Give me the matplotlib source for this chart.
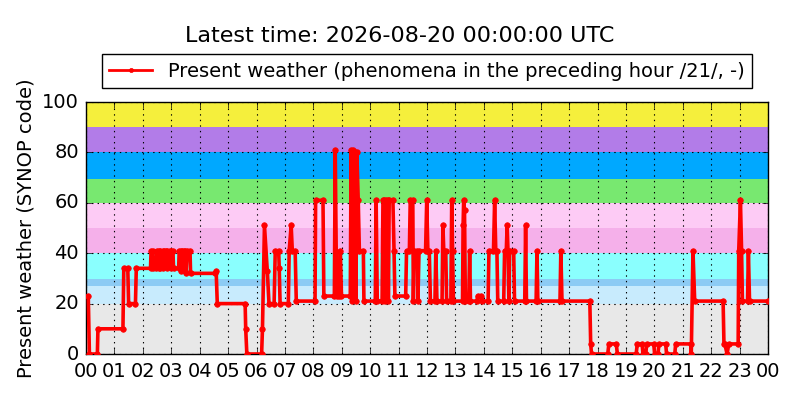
import matplotlib
matplotlib.use("Agg")
import matplotlib.pyplot as plt

plt.style.use("classic")
matplotlib.rcParams.update({"font.size": 14, "font.family": "DejaVu Sans"})

# observation times (hours since 00 UTC) and present weather codes
times = [0.08, 0.12, 0.40, 0.42, 1.30, 1.33, 1.47, 1.50, 1.74, 1.77, 2.27,
         2.29, 2.35, 2.37, 2.47, 2.49, 2.56, 2.58, 2.60, 2.62, 2.70, 2.72,
         2.74, 2.82, 2.84, 2.86, 2.96, 2.98, 3.00, 3.06, 3.08, 3.26, 3.28,
         3.33, 3.35, 3.38, 3.45, 3.47, 3.50, 3.52, 3.56, 3.66, 3.68, 4.55,
         4.58, 4.62, 5.60, 5.62, 5.66, 6.18, 6.21, 6.28, 6.38, 6.44, 6.62,
         6.66, 6.78, 6.80, 6.83, 7.12, 7.15, 7.22, 7.26, 7.36, 7.40, 8.06,
         8.08, 8.34, 8.37, 8.74, 8.77, 8.82, 8.92, 8.95, 8.99, 9.30, 9.33,
         9.37, 9.40, 9.42, 9.48, 9.50, 9.53, 9.58, 9.62, 9.76, 9.78, 10.18,
         10.21, 10.25, 10.42, 10.45, 10.50, 10.52, 10.55, 10.62, 10.64, 10.67,
         10.80, 10.84, 10.87, 11.25, 11.28, 11.38, 11.41, 11.50, 11.52, 11.55,
         11.66, 11.68, 11.72, 11.95, 11.99, 12.03, 12.08, 12.12, 12.28, 12.31,
         12.35, 12.53, 12.56, 12.59, 12.66, 12.69, 12.84, 12.87, 12.90, 12.93,
         13.25, 13.27, 13.29, 13.32, 13.35, 13.47, 13.50, 13.53, 13.76, 13.78,
         13.90, 13.94, 14.15, 14.18, 14.34, 14.38, 14.42, 14.46, 14.49, 14.70,
         14.73, 14.79, 14.82, 14.85, 14.88, 14.91, 15.05, 15.08, 15.44, 15.47,
         15.50, 15.84, 15.87, 15.90, 16.68, 16.71, 16.75, 17.73, 17.76, 17.79,
         18.36, 18.40, 18.66, 18.70, 19.36, 19.40, 19.57, 19.60, 19.70, 19.73,
         19.98, 20.01, 20.13, 20.16, 20.40, 20.43, 20.72, 20.75, 21.28, 21.30,
         21.36, 21.42, 22.42, 22.45, 22.48, 22.56, 22.62, 22.95, 22.97, 23.03,
         23.07, 23.10, 23.28, 23.31, 23.35, 23.99]
codes = [23, 0, 0, 10, 10, 34, 34, 20, 20, 34, 34,
         41, 41, 34, 34, 41, 41, 34, 34, 41, 41, 34,
         41, 41, 34, 41, 41, 34, 41, 41, 34, 34, 41,
         41, 33, 41, 41, 33, 41, 32, 41, 41, 32, 32,
         33, 20, 20, 10, 0, 0, 10, 51, 33, 20, 20,
         41, 41, 34, 20, 20, 41, 51, 41, 41, 21, 21,
         61, 61, 23, 23, 81, 23, 23, 41, 23, 23, 81,
         21, 81, 80, 80, 21, 80, 61, 41, 41, 21, 21,
         61, 21, 21, 61, 61, 21, 61, 61, 21, 61,
         61, 41, 23, 23, 41, 41, 61, 61, 21, 41,
         41, 21, 41, 41, 61, 41, 41, 21, 21, 41,
         21, 21, 51, 41, 41, 21, 21, 61, 41, 21,
         21, 51, 61, 57, 21, 21, 41, 21, 21, 23,
         23, 21, 21, 41, 41, 61, 41, 41, 21, 21,
         41, 41, 51, 41, 21, 41, 41, 21, 21, 51,
         21, 21, 41, 21, 21, 41, 21, 21, 4, 0,
         0, 4, 4, 0, 0, 4, 4, 0, 0, 4,
         4, 0, 0, 4, 4, 0, 0, 4, 4, 0,
         41, 21, 21, 4, 4, 0, 4, 4, 41, 61,
         41, 21, 21, 41, 21, 21]

# background bands of code groups
band_edges = [0, 20, 27, 29.6, 40, 50, 60, 69.5, 80, 90, 100]
band_colors = ["#e8e8e8", "#c8ebfd", "#8ccbf4", "#8afffe", "#f5b0ea",
               "#fdcbf5", "#78e870", "#00a8ff", "#b27ce8", "#f5ef3c"]

hour_labels = ["%02d" % (h % 24) for h in range(25)]

fg = plt.figure(figsize=(8, 4), dpi=100, facecolor="white")
ax = fg.add_axes([0.1075, 0.115, 0.8525, 0.63])

for lo, hi, c in zip(band_edges[:-1], band_edges[1:], band_colors):
    ax.axhspan(lo, hi, color=c, linewidth=0, zorder=0)

ax.plot(times, codes, "-o", color="red", markeredgecolor="red",
        linewidth=2.6, markersize=4,
        label="Present weather (phenomena in the preceding hour /21/, -)",
        zorder=3)

ax.set_xlim(0, 24)
ax.set_ylim(0, 100)
ax.set_xticks(range(25))
ax.set_xticklabels(hour_labels, fontsize=14)
ax.set_yticks(range(0, 101, 20))
ax.tick_params(axis="y", labelsize=14, pad=5)
ax.tick_params(axis="x", pad=6)
ax.grid(True, color="k", linestyle=":", linewidth=0.8)
ax.set_ylabel("Present weather (SYNOP code)", fontsize=14)

leg = ax.legend(loc="lower center", bbox_to_anchor=(0.5, 1.0), numpoints=1,
                fontsize=14, fancybox=False, frameon=True, borderaxespad=0.7,
                handlelength=2.2)
for h in leg.legend_handles:
    h.set_linewidth(2)
    h.set_markersize(3)
fg.suptitle("Latest time: 2026-08-20 00:00:00 UTC", fontsize=16, y=0.935)

fg.savefig("out.png", dpi=100, facecolor="white")
